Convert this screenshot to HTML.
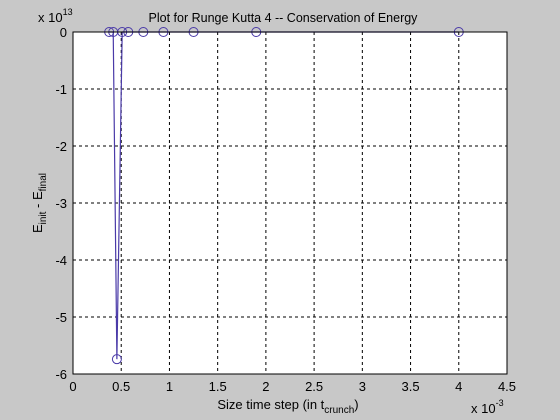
<!DOCTYPE html>
<html><head><meta charset="utf-8"><style>
body{margin:0;background:#c8c8c8;}
svg{display:block;font-family:"Liberation Sans",sans-serif;}
</style></head><body>
<svg id="c" width="560" height="420" viewBox="0 0 560 420">
<rect width="560" height="420" fill="#c8c8c8"/>
<rect x="73" y="32" width="434" height="342" fill="#fff"/>
<g id="grid"></g>
<g id="ticks"></g>
<g id="series"></g>
<rect x="73" y="32" width="434" height="342" fill="none" stroke="#000" stroke-width="1"/>
<text x="283" y="22" font-size="12.5" text-anchor="middle">Plot for Runge Kutta 4 -- Conservation of Energy</text>
<text x="38" y="22" font-size="13">x 10<tspan dy="-7" font-size="9">13</tspan></text>
<text x="471" y="413" font-size="13">x 10<tspan dy="-7" font-size="9">-3</tspan></text>
<text x="288" y="409" font-size="13" text-anchor="middle">Size time step (in t<tspan dy="4" font-size="10">crunch</tspan><tspan dy="-4">)</tspan></text>
<text transform="translate(42,203) rotate(-90)" font-size="13" text-anchor="middle">E<tspan dy="4" font-size="10">init</tspan><tspan dy="-4"> - E</tspan><tspan dy="4" font-size="10">final</tspan></text>
</svg>
<script>
const xValues=[0.375,0.417,0.455,0.51,0.573,0.729,0.9375,1.25,1.9,4.0];
const yValues=[0,0,-5.74,0,0,0,0,0,0,0];
const xTicks=[0,0.5,1,1.5,2,2.5,3,3.5,4,4.5];
const yTicks=[0,-1,-2,-3,-4,-5,-6];
const X0=73,X1=507,Y0=32,Y1=374;
const sx=v=>X0+(v-0)/(4.5-0)*(X1-X0);
const sy=v=>Y0+(0-v)/(0-(-6))*(Y1-Y0);
const NS="http://www.w3.org/2000/svg";
function mk(t,a,p){const e=document.createElementNS(NS,t);for(const k in a)e.setAttribute(k,a[k]);p.appendChild(e);return e;}
const grid=document.getElementById('grid'),ticks=document.getElementById('ticks'),series=document.getElementById('series');
xTicks.forEach(v=>{const x=sx(v);
 if(v>0&&v<4.5){const g=mk('line',{x1:x,x2:x,y1:Y0,y2:Y1,stroke:'#000','stroke-dasharray':'3,3','stroke-width':1},grid);
 
 }
 const t=mk('text',{x:x,y:Y1+17,'font-size':13,'text-anchor':'middle'},ticks);t.textContent=v;
 
 });
yTicks.forEach(v=>{const y=sy(v);
 if(v<0&&v>-6){const g=mk('line',{x1:X0,x2:X1,y1:y,y2:y,stroke:'#000','stroke-dasharray':'3,3','stroke-width':1},grid);
 
 }
 const t=mk('text',{x:X0-6,y:y+5,'font-size':13,'text-anchor':'end'},ticks);t.textContent=v;
 
 });
const pts=xValues.map((v,i)=>sx(v)+','+sy(yValues[i])).join(' ');
const line=mk('polyline',{points:pts,fill:'none',stroke:'#4a3aa8','stroke-width':1.2},series);


xValues.forEach((v,i)=>{const c=mk('circle',{cx:sx(v),cy:sy(yValues[i]),r:4.5,fill:'none',stroke:'#4a3aa8','stroke-width':1},series);
 
 });
</script>
</body></html>
